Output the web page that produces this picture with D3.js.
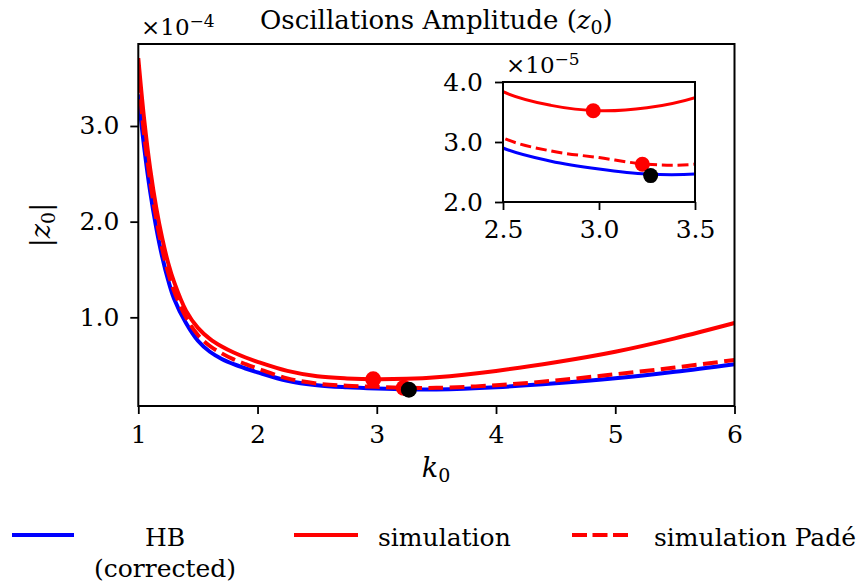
<!DOCTYPE html>
<html>
<head>
<meta charset="utf-8">
<script src="https://cdn.jsdelivr.net/npm/d3@7"></script>
<style>
  body { margin: 0; background: #fff; }
  .axis path.domain { display: none; }
  .axis line { stroke: #000; stroke-width: 1.8; }
</style>
</head>
<body>
<div id="vis"></div>
<script>
// ---- data (amplitude in units of 1e-4) ----
const k0 = [1.00, 1.05, 1.10, 1.15, 1.20, 1.25, 1.30, 1.40, 1.50, 1.60, 1.70, 1.80, 1.90,
            2.00, 2.25, 2.50, 2.75, 3.00, 3.25, 3.50, 4.00, 4.50, 5.00, 5.50, 6.00];
const hb = [3.33, 2.77, 2.31, 1.94, 1.635, 1.39, 1.195, 0.94, 0.755, 0.64, 0.565, 0.51, 0.465,
            0.425, 0.337, 0.290, 0.268, 0.255, 0.2465, 0.2467, 0.27, 0.31, 0.362, 0.43, 0.51];
const sim = [3.71, 3.06, 2.55, 2.15, 1.83, 1.57, 1.37, 1.07, 0.89, 0.775, 0.695, 0.632, 0.58,
             0.535, 0.44, 0.384, 0.361, 0.352, 0.357, 0.374, 0.44, 0.53, 0.64, 0.78, 0.94];
const simPade = [3.50, 2.90, 2.42, 2.035, 1.72, 1.47, 1.275, 1.00, 0.815, 0.70, 0.623, 0.56, 0.51,
                 0.465, 0.362, 0.307, 0.285, 0.274, 0.263, 0.263, 0.29, 0.34, 0.405, 0.475, 0.554];

// minima markers
const markerSeries = ["simulation", "simulation Padé", "HB"];
const markerK = [2.97, 3.226, 3.269];
const markerZ = [0.352, 0.263, 0.244];

// ticks
const xTicks = [1, 2, 3, 4, 5, 6];
const yTicks = [1.0, 2.0, 3.0];
const insetXTicks = [2.5, 3.0, 3.5];
const insetYTicks = [2.0, 3.0, 4.0];   // units of 1e-5

const legendNames = [["HB", "(corrected)"], ["simulation"], ["simulation Padé"]];

// ---- layout ----
const FRAME_WIDTH = 860;
const FRAME_HEIGHT = 588;
const MAIN = {left: 138.3, right: 734.5, top: 44, bottom: 406};
const INSET = {left: 503, right: 695, top: 82, bottom: 202};
const FONT = "'DejaVu Serif', serif";

const STYLE = {
  "HB": {color: "#0000ff", dash: null},
  "simulation": {color: "#ff0000", dash: null},
  "simulation Padé": {color: "#ff0000", dash: "14.8,6.4"}
};
const MARKER_COLOR = {"simulation": "#ff0000", "simulation Padé": "#ff0000", "HB": "#000000"};

const FRAME = d3.select("#vis")
  .append("svg")
    .attr("width", FRAME_WIDTH)
    .attr("height", FRAME_HEIGHT)
    .style("background", "#fff");

// scales
const X_SCALE = d3.scaleLinear().domain([1, 6]).range([MAIN.left, MAIN.right]);
const Y_SCALE = d3.scaleLinear().domain([0.073, 3.857]).range([MAIN.bottom, MAIN.top]);
const IX_SCALE = d3.scaleLinear().domain([2.5, 3.5]).range([INSET.left, INSET.right]);
const IY_SCALE = d3.scaleLinear().domain([2.0, 4.0]).range([INSET.bottom, INSET.top]);

const series = [
  {name: "HB", values: hb},
  {name: "simulation", values: sim},
  {name: "simulation Padé", values: simPade}
];

const defs = FRAME.append("defs");
defs.append("clipPath").attr("id", "clipMain")
  .append("rect")
    .attr("x", MAIN.left).attr("y", MAIN.top)
    .attr("width", MAIN.right - MAIN.left).attr("height", MAIN.bottom - MAIN.top);
defs.append("clipPath").attr("id", "clipInset")
  .append("rect")
    .attr("x", INSET.left).attr("y", INSET.top)
    .attr("width", INSET.right - INSET.left).attr("height", INSET.bottom - INSET.top);

// ---- main axes ----
const mainLine = (vals) => d3.line()
  .x((d, i) => X_SCALE(k0[i]))
  .y((d) => Y_SCALE(d))
  .curve(d3.curveCatmullRom.alpha(0.5))(vals);

const mainG = FRAME.append("g").attr("clip-path", "url(#clipMain)");
series.forEach((s) => {
  mainG.append("path")
    .attr("d", mainLine(s.values))
    .attr("fill", "none")
    .attr("stroke", STYLE[s.name].color)
    .attr("stroke-width", 4)
    .attr("stroke-dasharray", STYLE[s.name].dash);
});
mainG.selectAll("circle")
  .data(markerK)
  .enter()
  .append("circle")
    .attr("cx", (d) => X_SCALE(d))
    .attr("cy", (d, i) => Y_SCALE(markerZ[i]))
    .attr("r", 8)
    .attr("fill", (d, i) => MARKER_COLOR[markerSeries[i]]);

FRAME.append("g")
  .attr("class", "axis")
  .attr("transform", "translate(0," + MAIN.bottom + ")")
  .call(d3.axisBottom(X_SCALE).tickValues(xTicks).tickFormat(d3.format("d"))
        .tickSize(8).tickPadding(11))
  .selectAll("text").style("font-size", "25px");

FRAME.append("g")
  .attr("class", "axis")
  .attr("transform", "translate(" + MAIN.left + ",0)")
  .call(d3.axisLeft(Y_SCALE).tickValues(yTicks).tickFormat(d3.format(".1f"))
        .tickSize(8).tickPadding(11))
  .selectAll("text").style("font-size", "25px");

FRAME.append("rect")
  .attr("x", MAIN.left).attr("y", MAIN.top)
  .attr("width", MAIN.right - MAIN.left).attr("height", MAIN.bottom - MAIN.top)
  .attr("fill", "none").attr("stroke", "#000").attr("stroke-width", 2);

// offset text x10^-4
const off4 = FRAME.append("text").attr("x", 141).attr("y", 35).style("font-size", "23px");
off4.append("tspan").text("×10");
off4.append("tspan").attr("dy", "-0.5em").style("font-size", "17px").text("−4");

// title
const title = FRAME.append("text")
  .attr("x", (MAIN.left + MAIN.right) / 2).attr("y", 29)
  .attr("text-anchor", "middle").style("font-size", "26px");
title.append("tspan").text("Oscillations Amplitude (");
title.append("tspan").style("font-style", "italic").text("z");
title.append("tspan").attr("dy", "0.25em").style("font-size", "19px").text("0");
title.append("tspan").attr("dy", "-0.18em").text(")");

// x label
const xl = FRAME.append("text")
  .attr("x", 436).attr("y", 477)
  .attr("text-anchor", "middle").style("font-size", "27px");
xl.append("tspan").style("font-style", "italic").text("k");
xl.append("tspan").attr("dy", "0.25em").style("font-size", "19px").text("0");

// y label
const yl = FRAME.append("text")
  .attr("transform", "translate(50," + (MAIN.top + MAIN.bottom) / 2 + ") rotate(-90)")
  .attr("text-anchor", "middle").style("font-size", "27px");
yl.append("tspan").text("|");
yl.append("tspan").style("font-style", "italic").text("z");
yl.append("tspan").attr("dy", "0.25em").style("font-size", "19px").text("0");
yl.append("tspan").attr("dy", "-0.18em").text("|");

// ---- inset ----
FRAME.append("rect")
  .attr("x", INSET.left).attr("y", INSET.top)
  .attr("width", INSET.right - INSET.left).attr("height", INSET.bottom - INSET.top)
  .attr("fill", "#fff");

const insetLine = (vals) => d3.line()
  .x((d, i) => IX_SCALE(k0[i]))
  .y((d) => IY_SCALE(d * 10))
  .curve(d3.curveCatmullRom.alpha(0.5))(vals);

const insetG = FRAME.append("g").attr("clip-path", "url(#clipInset)");
series.forEach((s) => {
  insetG.append("path")
    .attr("d", insetLine(s.values))
    .attr("fill", "none")
    .attr("stroke", STYLE[s.name].color)
    .attr("stroke-width", 3)
    .attr("stroke-dasharray", STYLE[s.name].dash ? "11.1,4.8" : null);
});
insetG.selectAll("circle")
  .data(markerK)
  .enter()
  .append("circle")
    .attr("cx", (d) => IX_SCALE(d))
    .attr("cy", (d, i) => IY_SCALE(markerZ[i] * 10))
    .attr("r", 7.5)
    .attr("fill", (d, i) => MARKER_COLOR[markerSeries[i]]);

FRAME.append("g")
  .attr("class", "axis")
  .attr("transform", "translate(0," + INSET.bottom + ")")
  .call(d3.axisBottom(IX_SCALE).tickValues(insetXTicks).tickFormat(d3.format(".1f"))
        .tickSize(8).tickPadding(10))
  .selectAll("text").style("font-size", "25px");

FRAME.append("g")
  .attr("class", "axis")
  .attr("transform", "translate(" + INSET.left + ",0)")
  .call(d3.axisLeft(IY_SCALE).tickValues(insetYTicks).tickFormat(d3.format(".1f"))
        .tickSize(8).tickPadding(12))
  .selectAll("text").style("font-size", "25px");

FRAME.append("rect")
  .attr("x", INSET.left).attr("y", INSET.top)
  .attr("width", INSET.right - INSET.left).attr("height", INSET.bottom - INSET.top)
  .attr("fill", "none").attr("stroke", "#000").attr("stroke-width", 2);

const off5 = FRAME.append("text").attr("x", 506).attr("y", 73).style("font-size", "23px");
off5.append("tspan").text("×10");
off5.append("tspan").attr("dy", "-0.5em").style("font-size", "17px").text("−5");

// ---- legend ----
const LEG = [
  {x0: 12, x1: 74, tx: 165, anchor: "middle"},
  {x0: 294, x1: 358, tx: 378, anchor: "start"},
  {x0: 572, x1: 631, tx: 654, anchor: "start"}
];
const legend = FRAME.append("g");
series.forEach((s, i) => {
  legend.append("line")
    .attr("x1", LEG[i].x0).attr("x2", LEG[i].x1)
    .attr("y1", 535).attr("y2", 535)
    .attr("stroke", STYLE[s.name].color)
    .attr("stroke-width", 4)
    .attr("stroke-dasharray", STYLE[s.name].dash ? "15,5.5" : null);
  legendNames[i].forEach((line, j) => {
    legend.append("text")
      .attr("x", LEG[i].tx).attr("y", 546 + j * 31)
      .attr("text-anchor", LEG[i].anchor)
      .style("font-size", "25px")
      .text(line);
  });
});

// serif font on every label
FRAME.selectAll("text").style("font-family", FONT).attr("fill", "#000");
</script>
</body>
</html>
